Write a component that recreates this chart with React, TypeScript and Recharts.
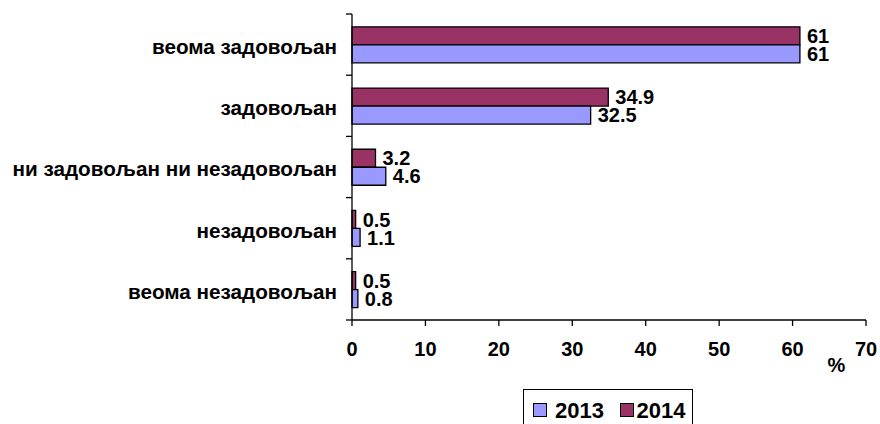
import React from 'react';
import { BarChart, Bar, XAxis, YAxis, LabelList } from 'recharts';

const categories = [
  'веома задовољан',
  'задовољан',
  'ни задовољан ни незадовољан',
  'незадовољан',
  'веома незадовољан',
];
const values2013 = [61, 32.5, 4.6, 1.1, 0.8];
const values2014 = [61, 34.9, 3.2, 0.5, 0.5];
const xTicks = [0, 10, 20, 30, 40, 50, 60, 70];
const seriesNames = ['2013', '2014'];
const axisUnit = '%';

const COLOR_2013 = '#9999FF';
const COLOR_2014 = '#993366';
const FONT = '"Liberation Sans", Arial, sans-serif';
const TICK_SIZE = 6;
const Y_TICK_MARGIN = 9;

const data = categories.map((name, i) => ({
  name,
  y2013: values2013[i],
  y2014: values2014[i],
}));

const textStyle = { fontFamily: FONT, fontWeight: 700, fill: '#000' };

const CategoryTick = (props: any) => {
  const { x, y, payload, index, visibleTicksCount } = props;
  const half = payload && typeof payload.offset === 'number' ? payload.offset : 0;
  const axisX = x + TICK_SIZE + Y_TICK_MARGIN;
  const isLast = index === visibleTicksCount - 1;
  return (
    <g>
      <line x1={axisX - TICK_SIZE} x2={axisX} y1={y - half} y2={y - half} stroke="#000" strokeWidth={1.3} />
      {isLast && (
        <line x1={axisX - TICK_SIZE} x2={axisX} y1={y + half} y2={y + half} stroke="#000" strokeWidth={1.3} />
      )}
      <text x={x} y={y + 2} dy="0.355em" textAnchor="end" fontSize={20.7} {...textStyle}>
        {payload.value}
      </text>
    </g>
  );
};

export default function App() {
  return (
    <div style={{ position: 'absolute', left: 0, top: 0, width: 880, height: 424, background: '#fff', fontFamily: FONT }}>
      <BarChart
        width={880}
        height={424}
        data={data}
        layout="vertical"
        margin={{ top: 14, right: 14, left: 0, bottom: 74 }}
        barGap={0}
        barCategoryGap="21%"
      >
        <YAxis
          type="category"
          dataKey="name"
          width={352}
          interval={0}
          axisLine={{ stroke: '#000', strokeWidth: 1.3 }}
          tickLine={false}
          tickSize={TICK_SIZE}
          tickMargin={Y_TICK_MARGIN}
          tick={<CategoryTick />}
        />
        <XAxis
          type="number"
          domain={[0, 70]}
          ticks={xTicks}
          interval={0}
          height={30}
          tickSize={TICK_SIZE}
          tickMargin={16}
          axisLine={{ stroke: '#000', strokeWidth: 1.3 }}
          tickLine={{ stroke: '#000', strokeWidth: 1.3 }}
          tick={{ ...textStyle, fontSize: 20 }}
        />
        <Bar dataKey="y2014" name={seriesNames[1]} fill={COLOR_2014} stroke="#000" strokeWidth={1.3} isAnimationActive={false}>
          <LabelList dataKey="y2014" position="right" offset={7} style={{ ...textStyle, fontSize: 20 }} />
        </Bar>
        <Bar dataKey="y2013" name={seriesNames[0]} fill={COLOR_2013} stroke="#000" strokeWidth={1.3} isAnimationActive={false}>
          <LabelList dataKey="y2013" position="right" offset={7} style={{ ...textStyle, fontSize: 20 }} />
        </Bar>
      </BarChart>
      <div
        style={{
          position: 'absolute',
          left: 827.6,
          top: 355.4,
          fontSize: 20,
          lineHeight: '20px',
          fontWeight: 700,
          color: '#000',
          whiteSpace: 'nowrap',
        }}
      >
        {axisUnit}
      </div>
      <div
        style={{
          position: 'absolute',
          left: 523,
          top: 389,
          width: 170,
          height: 40,
          boxSizing: 'border-box',
          border: '1.3px solid #000',
          background: '#fff',
        }}
      >
        {[
          { name: seriesNames[0], color: COLOR_2013, sq: 8.5, tx: 31 },
          { name: seriesNames[1], color: COLOR_2014, sq: 95.5, tx: 112.5 },
        ].map((s) => (
          <React.Fragment key={s.name}>
            <div
              style={{
                position: 'absolute',
                left: s.sq,
                top: 13,
                width: 14,
                height: 14,
                boxSizing: 'border-box',
                border: '1.3px solid #000',
                background: s.color,
              }}
            />
            <div
              style={{
                position: 'absolute',
                left: s.tx,
                top: 10,
                fontSize: 22,
                lineHeight: '22px',
                fontWeight: 700,
                color: '#000',
                whiteSpace: 'nowrap',
              }}
            >
              {s.name}
            </div>
          </React.Fragment>
        ))}
      </div>
    </div>
  );
}
